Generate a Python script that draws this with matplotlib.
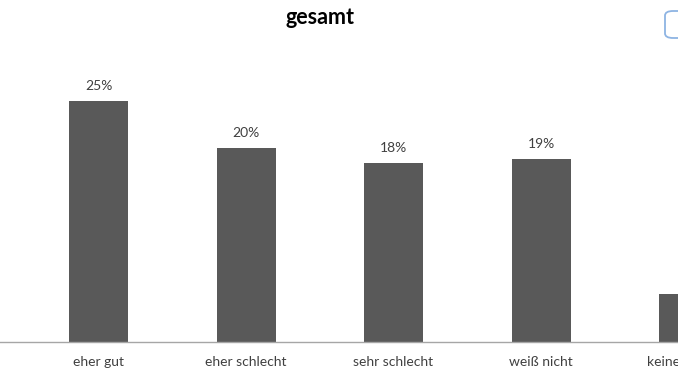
import matplotlib.pyplot as plt
from matplotlib.patches import FancyBboxPatch

categories = ['eher gut', 'eher schlecht', 'sehr schlecht', 'weiß nicht', 'keine Angabe']
values = [25.0, 20.1, 18.6, 19.0, 5.0]
labels = ['25%', '20%', '18%', '19%', '5%']

plt.rcParams['font.family'] = ['Lato', 'DejaVu Sans']

W, H = 678, 381
fig = plt.figure(figsize=(W / 100, H / 100), dpi=100)

# axes run past the right edge, the picture is a crop of a wider chart
step = 147.5
ax_w = 820
ax = fig.add_axes([0, 39 / H, ax_w / W, 292 / H])
x = list(range(len(categories)))
ax.bar(x, values, width=0.4, color='#595959')
ax.set_xlim(-98.5 / step, -98.5 / step + ax_w / step)
ax.set_ylim(0, 292 / 9.64)

for xi, v, lab in zip(x, values, labels):
    ax.annotate(lab, (xi, v), xytext=(0, 6.5), textcoords='offset points',
                ha='center', va='bottom', fontsize=10, color='#404040')

ax.set_xticks(x)
ax.set_xticklabels(categories, fontsize=10, color='#404040')
ax.tick_params(axis='x', length=0, pad=10)
ax.set_yticks([])
for s in ['top', 'right', 'left']:
    ax.spines[s].set_visible(False)
ax.spines['bottom'].set_color('#a6a6a6')
ax.spines['bottom'].set_linewidth(1.0)

fig.text(320 / W, 1 - 17 / H, 'gesamt', ha='center', va='center',
         fontsize=15.5, fontweight='bold', color='black')

box = FancyBboxPatch((665 / W, 1 - 38 / H), 40 / W, 27 / H,
                     boxstyle='round,pad=0,rounding_size=0.012',
                     transform=fig.transFigure, fill=False,
                     edgecolor='#8eb4e3', linewidth=1.3)
fig.patches.append(box)

fig.savefig('out.png', dpi=100)
